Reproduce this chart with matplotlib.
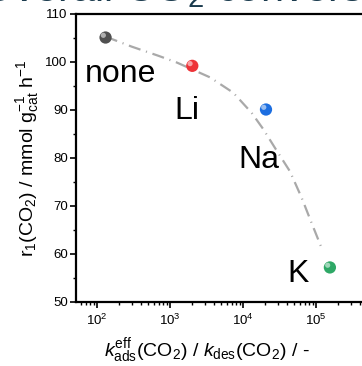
import matplotlib
matplotlib.use("Agg")
import matplotlib.pyplot as plt
import matplotlib.transforms as mtransforms
from matplotlib.ticker import LogLocator, MultipleLocator, NullFormatter

plt.rcParams['font.family'] = ['Liberation Sans', 'DejaVu Sans']
plt.rcParams['mathtext.fontset'] = 'custom'
plt.rcParams['mathtext.rm'] = 'Liberation Sans'
plt.rcParams['mathtext.it'] = 'Liberation Sans:italic'
plt.rcParams['mathtext.bf'] = 'Liberation Sans:bold'

# Promoters and their measured rates
promoters = ["none", "Li", "Na", "K"]
k_ratio = [131, 2020, 20650, 155000]
rate = [105.1, 99.2, 90.1, 57.2]
colors = ["#505050", "#ee3338", "#1c6ee0", "#2ea866"]

# Model trend line
trend_k = [131, 159, 299, 692, 1236, 3532, 7362, 13150, 18970, 27420,
           44030, 63680, 87350, 119700]
trend_r = [105.2, 104.8, 103.2, 101.3, 99.9, 96.8, 93.6, 89.4, 86.0, 82.1,
           77.2, 71.7, 66.4, 61.2]

W, H = 362, 366
fig = plt.figure(figsize=(W / 100, H / 100), dpi=100)
ax = fig.add_axes([76 / W, 1 - 302 / H, (389 - 76) / W, (302 - 14) / H])

ax.plot(trend_k, trend_r, color="#a9a9a9", lw=1.6,
        linestyle=(0, (5.5, 2.6, 0.5, 2.6)), zorder=2)

# Shaded spheres: body plus a small offset highlight
hl = mtransforms.offset_copy(ax.transData, fig=fig, x=-1.6, y=1.6, units='points')
for k, r, c in zip(k_ratio, rate, colors):
    ax.scatter([k], [r], s=78, color=c, edgecolors='none', zorder=3)
    ax.scatter([k], [r], s=14, color="white", alpha=0.55, edgecolors='none',
               zorder=4, transform=hl)

label_offsets = [(15, -44), (-5, -53), (-7, -58), (-32, -15)]
for name, k, r, off in zip(promoters, k_ratio, rate, label_offsets):
    ax.annotate(name, (k, r), xytext=off, textcoords='offset pixels',
                ha='center', va='baseline', fontsize=23, color='black')

ax.set_xscale('log')
ax.set_xlim(10 ** (2 - 21 / 73), 1e6)
ax.set_ylim(50, 110)
ax.yaxis.set_major_locator(MultipleLocator(10))
ax.yaxis.set_minor_locator(MultipleLocator(5))
ax.xaxis.set_major_locator(LogLocator(base=10, numticks=10))
ax.xaxis.set_minor_locator(LogLocator(base=10, subs=range(2, 10), numticks=20))
ax.xaxis.set_minor_formatter(NullFormatter())

for s in ['left', 'bottom', 'top', 'right']:
    ax.spines[s].set_linewidth(1.6)
ax.tick_params(axis='both', which='major', direction='out', length=4, width=1.2,
               labelsize=9.5, pad=2)
ax.tick_params(axis='x', which='major', pad=4)
ax.tick_params(axis='both', which='minor', direction='out', length=2, width=1.0)
ax.tick_params(top=False, right=False, which='both')

ax.set_ylabel(r'r$_1$(CO$_2$) / mmol g$_{\rm cat}^{-1}$ h$^{-1}$', fontsize=14,
              labelpad=3)
ax.set_xlabel(r'$k_{\rm ads}^{\rm eff}$(CO$_2$) / $k_{\rm des}$(CO$_2$) / -',
              fontsize=14)
ax.xaxis.set_label_coords((207 - 76) / (389 - 76), -(336 - 302) / (302 - 14))

fig.text(199 / W, 1 - 1 / H, r'Overall CO$_2$ conversion', fontsize=30,
         color="#1b3b4e", ha='center', va='baseline')

fig.savefig("out.png", dpi=100)
